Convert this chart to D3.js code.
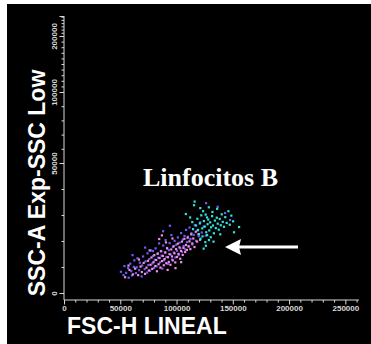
<!DOCTYPE html>
<html>
<head>
<meta charset="utf-8">
<script src="https://cdn.jsdelivr.net/npm/d3@7"></script>
<style>
  html, body { margin: 0; padding: 0; background: #ffffff; }
  svg { display: block; }
</style>
</head>
<body>
<svg id="plot" width="371" height="344"></svg>
<script>
// Flow cytometry dot plot: FSC-H (linear) vs SSC-A (expanded low-SSC scale)
// Event coordinates are stored in thousands: [FSC-H, SSC-A]

const xTickValues = [0, 50000, 100000, 150000, 200000, 250000];
const yTickValues = [0, 50000, 100000, 200000];
const xTitle = "FSC-H LINEAL";
const yTitle = "SSC-A Exp-SSC Low";
const gateLabel = "Linfocitos B";

// SSC-A axis breakpoints of the expanded-low display
const yKnots = [0, 50000, 100000, 200000, 262144];

const violetEvents = [
  [50.5,8.2],[52.8,6.9],[53.6,10.4],[55.1,7.8],[56.9,9.6],[57.4,5.9],[58.8,11.3],[59.7,8.4],[60.3,6.8],[61.9,10.1],
  [62.4,12.6],[63.8,7.7],[64.5,9.9],[65.2,13.4],[66.7,8.8],[67.3,11.7],[68.9,6.4],[69.4,10.6],[70.2,14.1],[71.6,9.2],
  [72.3,12.2],[73.8,7.9],[74.1,15.3],[74.9,10.8],[75.7,13.1],[76.4,8.6],[77.2,16.4],[78.5,11.4],[79.1,14.2],[79.8,9.7],
  [80.6,12.8],[81.3,17.2],[82.2,10.3],[82.9,15.1],[83.7,13.6],[84.4,19.1],[85.2,11.8],[85.9,16.2],[86.6,14.4],[87.3,9.4],
  [88.1,18.3],[88.8,12.6],[89.5,15.7],[90.2,20.4],[90.9,13.9],[91.7,17.1],[92.4,11.2],[93.1,16.5],[93.8,19.2],[94.6,14.8],
  [95.3,22.3],[96.0,12.9],[96.7,17.8],[97.5,15.6],[98.2,20.1],[98.9,13.7],[99.6,18.6],[100.4,16.3],[101.1,21.4],[101.8,14.6],
  [102.6,19.4],[103.3,17.2],[104.0,23.1],[104.8,15.9],[105.5,20.6],[106.2,18.1],[107.0,22.0],[107.7,16.8],[108.4,24.3],[109.2,19.6],
  [110.0,21.7],[110.8,17.9],[111.5,25.2],[112.3,20.8],[113.1,23.0],[114.0,18.7],[115.2,22.4],[116.1,26.1],[117.3,20.1],[118.4,24.0],
  [119.6,21.9],[121.0,27.2],[122.3,23.3],[124.1,25.6],[125.9,22.1],[88.0,23.8],[79.0,16.2],[126.2,34.6],[143.0,30.8],[147.5,28.1],
  [136.5,33.2],[72.0,17.5],[94.0,25.9],[60.8,14.6]
];

const pinkEvents = [
  [54.2,6.1],[58.1,8.9],[61.2,7.2],[63.1,9.4],[65.8,6.9],[67.9,10.2],[69.1,8.1],[70.7,11.6],[71.9,7.4],[73.2,9.8],
  [74.5,12.4],[75.3,8.7],[76.8,10.9],[77.6,13.7],[78.3,9.3],[79.5,11.9],[80.2,14.6],[81.0,10.4],[81.8,12.7],[82.5,8.4],
  [83.3,15.2],[84.0,11.1],[84.8,13.5],[85.6,9.8],[86.3,16.1],[87.0,12.3],[87.8,14.3],[88.6,10.7],[89.3,13.1],[90.0,15.6],
  [90.8,11.5],[91.5,17.3],[92.3,13.8],[93.0,12.0],[93.7,15.0],[94.5,10.9],[95.2,16.8],[95.9,14.1],[96.6,12.6],[97.4,18.0],
  [98.1,15.3],[98.8,11.8],[99.5,16.9],[100.3,13.9],[101.0,19.0],[101.7,15.1],[102.5,17.6],[103.2,13.2],[103.9,16.2],[104.7,19.8],
  [105.4,14.7],[106.1,17.4],[106.9,20.9],[107.6,15.8],[108.3,18.5],[109.1,16.6],[109.8,21.3],[110.6,18.0],[111.4,19.9],[112.2,16.9],
  [113.0,22.6],[113.9,19.1],[114.8,21.0],[115.9,17.7],[117.0,23.6],[118.2,19.8],[119.5,22.7],[120.8,20.5],[84.5,20.8],[86.9,22.2],
  [90.5,19.5],[76.0,16.4],[66.5,12.9],[57.2,10.6],[96.3,21.0],[99.0,9.6],[92.0,8.9],[104.0,11.9]
];

const cyanEvents = [
  [108.2,30.4],[115.5,33.8],[116.0,35.2],[123.5,31.5],[125.8,30.2],[127.0,29.1],[118.4,28.6],[120.6,26.8],[121.9,29.9],[122.8,24.9],
  [124.2,27.7],[125.0,25.6],[126.3,23.4],[127.5,26.5],[128.1,28.3],[129.0,24.1],[129.8,27.2],[130.6,25.3],[131.5,29.6],[132.3,26.0],
  [133.1,23.0],[134.0,27.9],[134.8,25.0],[135.7,29.0],[136.5,26.7],[137.4,24.4],[138.3,28.5],[139.2,26.1],[140.1,30.3],[141.0,27.4],
  [142.1,25.5],[143.2,29.2],[144.5,27.0],[146.0,31.5],[147.2,26.3],[148.6,29.8],[150.2,27.6],[155.5,25.4],[151.0,23.4],[119.8,22.7],
  [121.2,20.9],[123.0,21.8],[125.5,19.6],[127.1,22.3],[128.7,20.4],[130.3,21.5],[126.0,18.2],[124.0,17.1],[119.0,24.3],[117.2,26.0],
  [113.9,27.3],[112.0,29.1],[131.8,31.2],[136.0,32.4],[128.6,33.0],[121.0,32.7],[114.6,24.6],[132.8,19.8],[138.8,22.6]
];

const populations = [
  { events: violetEvents, color: "#6e5cf4" },
  { events: pinkEvents,   color: "#f38ae6" },
  { events: cyanEvents,   color: "#33e2d9" }
];

const svg = d3.select("#plot");

// black plotting card
svg.append("rect")
  .attr("x", 7).attr("y", 4)
  .attr("width", 364).attr("height", 340)
  .attr("fill", "#000000");

const x = d3.scaleLinear().domain([0, 262144]).range([64, 359]);
const y = d3.scaleLinear().domain(yKnots).range([293, 163, 92, 36, 16]);

const axisColor = "#d8d8d8";
const axisFont = "'Liberation Sans', Arial, sans-serif";

// ---- X axis ----
const xAxisY = 300;
const xMinor = d3.range(0, 262144, 10000).filter(v => !xTickValues.includes(v));
const gx = svg.append("g").attr("transform", `translate(0,${xAxisY})`);
gx.append("g")
  .call(d3.axisBottom(x).tickValues(xMinor).tickSize(2.5).tickFormat(""))
  .call(g => g.select(".domain").remove());
gx.append("g")
  .call(d3.axisBottom(x).tickValues(xTickValues).tickSize(4.5).tickSizeOuter(0)
        .tickFormat(d3.format("d")).tickPadding(1));
gx.selectAll("path, line").attr("stroke", axisColor).attr("stroke-width", 1);
gx.selectAll("text")
  .attr("fill", axisColor)
  .attr("font-family", axisFont)
  .attr("font-weight", "bold")
  .attr("font-size", 8);
gx.select(".domain").attr("d", `M${x(0)},0H${x(262144)}`);

// ---- Y axis ----
const yAxisX = 64;
const yMinor = d3.range(10000, 262144, 10000).filter(v => !yTickValues.includes(v));
const gy = svg.append("g").attr("transform", `translate(${yAxisX},0)`);
gy.append("g")
  .call(d3.axisLeft(y).tickValues(yMinor).tickSize(2.5).tickFormat(""))
  .call(g => g.select(".domain").remove());
gy.append("g")
  .call(d3.axisLeft(y).tickValues(yTickValues.concat([262144])).tickSize(4.5).tickSizeOuter(0)
        .tickFormat(d => yTickValues.includes(d) ? d3.format("d")(d) : ""));
gy.selectAll("path, line").attr("stroke", axisColor).attr("stroke-width", 1);
gy.select(".domain").attr("d", `M0,${y(262144)}V${xAxisY}`);
// tick labels run vertically, centred on their tick
gy.selectAll(".tick text")
  .attr("fill", axisColor)
  .attr("font-family", axisFont)
  .attr("font-weight", "bold")
  .attr("font-size", 8)
  .attr("text-anchor", "middle")
  .attr("x", 0)
  .attr("y", 3)
  .attr("dy", null)
  .attr("transform", "translate(-10,0) rotate(-90)");

// ---- events ----
const dots = svg.append("g");
populations.forEach(pop => {
  dots.append("g")
    .selectAll("rect")
    .data(pop.events)
    .join("rect")
    .attr("x", d => x(d[0] * 1000) - 1)
    .attr("y", d => y(d[1] * 1000) - 1)
    .attr("width", 2.2)
    .attr("height", 2.2)
    .attr("fill", pop.color);
});

// ---- axis titles ----
svg.append("text")
  .attr("x", 67).attr("y", 334)
  .attr("fill", "#ffffff")
  .attr("font-family", axisFont)
  .attr("font-weight", "bold")
  .attr("font-size", 23)
  .text(xTitle);

svg.append("text")
  .attr("transform", "translate(45,183) rotate(-90)")
  .attr("text-anchor", "middle")
  .attr("fill", "#ffffff")
  .attr("font-family", axisFont)
  .attr("font-weight", "bold")
  .attr("font-size", 23)
  .text(yTitle);

// ---- gate annotation ----
svg.append("text")
  .attr("x", 143).attr("y", 186)
  .attr("fill", "#ffffff")
  .attr("font-family", "'Liberation Serif', 'DejaVu Serif', serif")
  .attr("font-weight", "bold")
  .attr("font-size", 26)
  .text(gateLabel);

// arrow pointing to the cyan population
const arrowY = 247;
svg.append("line")
  .attr("x1", 298).attr("y1", arrowY)
  .attr("x2", 238).attr("y2", arrowY)
  .attr("stroke", "#ffffff")
  .attr("stroke-width", 3);
svg.append("path")
  .attr("d", `M225,${arrowY} L241,${arrowY - 8} L239,${arrowY} L241,${arrowY + 8} Z`)
  .attr("fill", "#ffffff");
</script>
</body>
</html>
